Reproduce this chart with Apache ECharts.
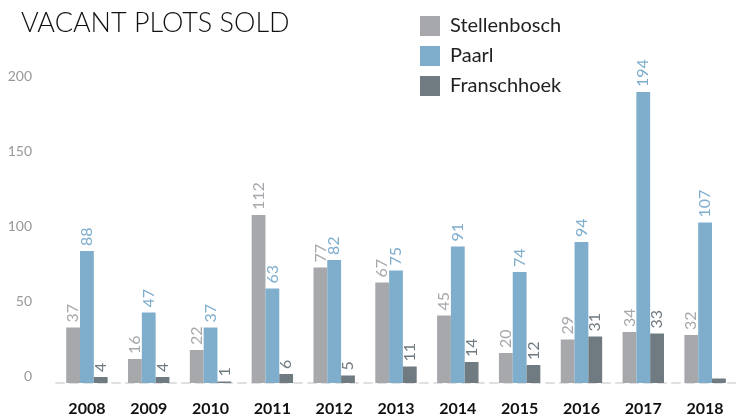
<!DOCTYPE html>
<html>
<head>
<meta charset="utf-8">
<script src="https://cdn.jsdelivr.net/npm/echarts@6/dist/echarts.min.js"></script>
<style>
  html, body { margin: 0; padding: 0; background: #fff; }
  #chart { width: 736px; height: 418px; }
</style>
</head>
<body>
<div id="chart"></div>
<script>
const years = ["2008", "2009", "2010", "2011", "2012", "2013", "2014", "2015", "2016", "2017", "2018"];
const stellenbosch = [37, 16, 22, 112, 77, 67, 45, 20, 29, 34, 32];
const paarl = [88, 47, 37, 63, 82, 75, 91, 74, 94, 194, 107];
const franschhoek = [4, 4, 1, 6, 5, 11, 14, 12, 31, 33, 3];
// the last Franschhoek bar has no label in the source
const hiddenLabels = { Franschhoek: [10] };

const colors = ["#a7a8ac", "#7faecd", "#6f7a81"];
const font = "Lato, 'Open Sans', sans-serif";

function makeSeries(name, values, color) {
  const hide = hiddenLabels[name] || [];
  return {
    name: name,
    type: "bar",
    barGap: 0,
    barCategoryGap: "33%",
    itemStyle: { color: color },
    data: values.map(function (v, i) {
      return hide.indexOf(i) >= 0 ? { value: v, label: { show: false } } : v;
    }),
    label: {
      show: true,
      position: "top",
      rotate: 90,
      align: "left",
      verticalAlign: "middle",
      distance: 5,
      color: color,
      fontSize: 16,
      fontFamily: font
    }
  };
}

const myChart = echarts.init(document.getElementById("chart"));
const option = {
  animation: false,
  title: {
    text: "VACANT PLOTS SOLD",
    left: 16,
    top: 5,
    textStyle: { fontSize: 27, fontWeight: 300, color: "#111", fontFamily: font }
  },
  legend: {
    orient: "vertical",
    left: 415,
    top: 11,
    itemWidth: 20,
    itemHeight: 20,
    itemGap: 10,
    icon: "rect",
    textStyle: { fontSize: 20, color: "#222", fontFamily: font, padding: [0, 0, 0, 5] },
    data: ["Stellenbosch", "Paarl", "Franschhoek"]
  },
  grid: {
    left: 56,
    width: 690,
    top: 83,
    bottom: 35,
    containLabel: false
  },
  xAxis: {
    type: "category",
    data: years,
    axisTick: { show: false },
    axisLine: { lineStyle: { color: "#e0e0e0", width: 2, type: [8, 6] } },
    axisLabel: { margin: 18, color: "#111", fontWeight: "bold", fontSize: 16, fontFamily: font }
  },
  yAxis: {
    type: "value",
    min: 0,
    max: 200,
    interval: 50,
    splitLine: { show: false },
    axisLine: { show: false },
    axisTick: { show: false },
    axisLabel: { margin: 24, color: "#999", fontSize: 14, fontFamily: font, verticalAlign: "bottom" }
  },
  series: [
    makeSeries("Stellenbosch", stellenbosch, colors[0]),
    makeSeries("Paarl", paarl, colors[1]),
    makeSeries("Franschhoek", franschhoek, colors[2])
  ]
};
myChart.setOption(option);
</script>
</body>
</html>
